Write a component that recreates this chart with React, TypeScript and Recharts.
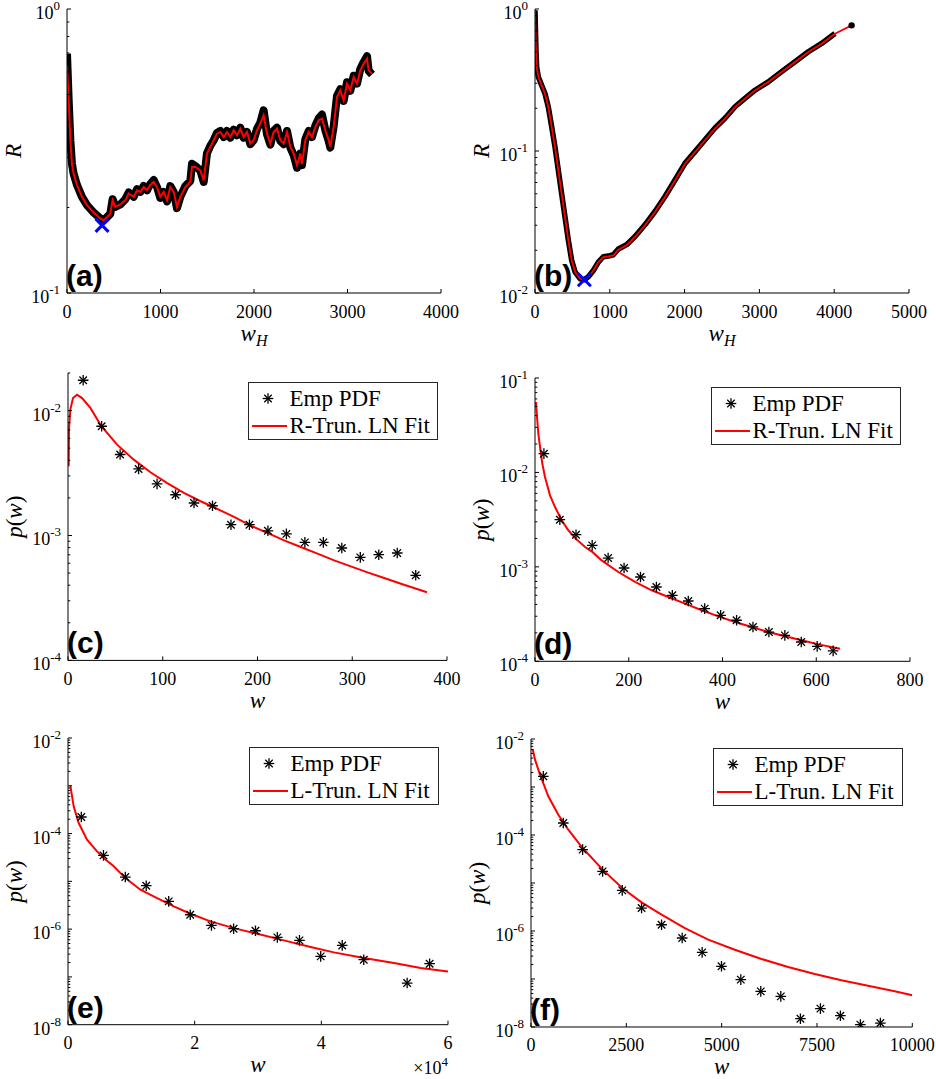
import React from 'react';
import { ComposedChart, Line, Scatter, XAxis, YAxis, Legend } from 'recharts';

const SERIF = '"Liberation Serif", "Times New Roman", Times, serif';
const SANS = '"Liberation Sans", Arial, Helvetica, sans-serif';

// ---------- Panel (a) ----------
const wA = [0, 18, 36, 53, 71, 107, 160, 214, 285, 357,
  392, 428, 463, 488, 517, 570, 624, 660, 713, 749,
  784, 820, 856, 891, 927, 963, 998, 1034, 1070, 1105,
  1141, 1176, 1212, 1266, 1319, 1337, 1373, 1426, 1462, 1497,
  1533, 1569, 1604, 1640, 1676, 1711, 1747, 1783, 1818, 1854,
  1889, 1925, 1961, 1996, 2032, 2068, 2103, 2139, 2175, 2210,
  2246, 2282, 2317, 2353, 2389, 2424, 2460, 2496, 2513, 2549,
  2585, 2620, 2656, 2692, 2727, 2763, 2799, 2816, 2852, 2888,
  2923, 2959, 2995, 3030, 3066, 3102, 3137, 3173, 3209, 3226,
  3262];
const rFitA = [0.633, 0.477, 0.345, 0.285, 0.263, 0.240, 0.218, 0.204, 0.192, 0.183,
  0.180, 0.185, 0.190, 0.212, 0.201, 0.205, 0.212, 0.224, 0.218, 0.230,
  0.227, 0.236, 0.230, 0.240, 0.246, 0.236, 0.218, 0.227, 0.212, 0.236,
  0.227, 0.201, 0.218, 0.236, 0.246, 0.278, 0.278, 0.270, 0.249, 0.310,
  0.327, 0.345, 0.364, 0.369, 0.354, 0.369, 0.354, 0.374, 0.359, 0.379,
  0.354, 0.369, 0.336, 0.345, 0.374, 0.395, 0.422, 0.364, 0.336, 0.369,
  0.379, 0.345, 0.336, 0.369, 0.327, 0.310, 0.282, 0.310, 0.285, 0.345,
  0.369, 0.354, 0.384, 0.406, 0.411, 0.374, 0.345, 0.327, 0.384, 0.490,
  0.517, 0.477, 0.546, 0.517, 0.576, 0.546, 0.608, 0.642, 0.668, 0.608,
  0.592];
const rEmpA = [0.696, 0.477, 0.345, 0.285, 0.263, 0.240, 0.218, 0.204, 0.192, 0.183,
  0.180, 0.185, 0.190, 0.214, 0.201, 0.205, 0.214, 0.226, 0.218, 0.232,
  0.227, 0.238, 0.230, 0.242, 0.250, 0.236, 0.216, 0.227, 0.210, 0.238,
  0.227, 0.199, 0.218, 0.238, 0.248, 0.285, 0.280, 0.270, 0.246, 0.310,
  0.330, 0.345, 0.366, 0.372, 0.354, 0.372, 0.352, 0.376, 0.359, 0.382,
  0.352, 0.369, 0.334, 0.345, 0.378, 0.398, 0.440, 0.362, 0.333, 0.372,
  0.382, 0.343, 0.334, 0.372, 0.325, 0.306, 0.276, 0.310, 0.282, 0.348,
  0.372, 0.354, 0.388, 0.412, 0.425, 0.374, 0.343, 0.325, 0.386, 0.495,
  0.522, 0.475, 0.552, 0.515, 0.582, 0.546, 0.615, 0.650, 0.682, 0.606,
  0.588];
const minA = { w: 375, v: 0.173 };

// ---------- Panel (b) ----------
const wB = [0, 13, 22, 45, 89, 134, 178, 223, 267, 312, 356, 401, 446, 490, 535, 602, 660, 713, 780, 847, 913, 980, 1047, 1114, 1225, 1337, 1470, 1604, 1738, 1872, 2005, 2139, 2273, 2406, 2540, 2674, 2807, 2941, 3119, 3297, 3476, 3654, 3832, 4010, 4233];
const rFitB = [0.979, 0.512, 0.391, 0.332, 0.290, 0.253, 0.204, 0.148, 0.107, 0.0731, 0.0501, 0.0343, 0.0235, 0.0170, 0.0141, 0.0126, 0.0124, 0.0130, 0.0144, 0.0165, 0.0179, 0.0181, 0.0184, 0.0202, 0.0217, 0.0248, 0.0300, 0.0372, 0.0474, 0.0621, 0.0814, 0.0984, 0.119, 0.144, 0.169, 0.204, 0.234, 0.267, 0.306, 0.360, 0.424, 0.498, 0.570, 0.670, 0.767];
const wEmpB = wB.slice(0, 44);
const rEmpB = [0.979, 0.512, 0.391, 0.332, 0.290, 0.253, 0.204, 0.148, 0.107, 0.0731, 0.0501, 0.0343, 0.0235, 0.0170, 0.0141, 0.0126, 0.0124, 0.0130, 0.0144, 0.0165, 0.0180, 0.0182, 0.0186, 0.0204, 0.0219, 0.0250, 0.0302, 0.0375, 0.0478, 0.0625, 0.0818, 0.0990, 0.120, 0.145, 0.170, 0.205, 0.235, 0.268, 0.307, 0.362, 0.425, 0.500, 0.572, 0.672];
const endB = { w: 4233, v: 0.767 };
const minB = { w: 660, v: 0.0124 };

// ---------- Panel (c) ----------
const wEmpC = [16, 35.5, 55, 74.5, 94, 113.5, 133, 152.5, 172, 191.5, 211, 230.5, 250, 269.5, 289, 308.5, 328, 347.5, 367];
const pEmpC = [0.0175, 0.00749, 0.00445, 0.00341, 0.00259, 0.00212, 0.00182, 0.00173, 0.00122, 0.00122, 0.00109, 0.00103, 0.000881, 0.000881, 0.000794, 0.000668, 0.000702, 0.000724, 0.000480];
const wFitC = [0.7, 1.06, 2.47, 5.29, 9.52, 14.8, 23.6, 35.2, 51.8, 69.4, 87.0, 104.7, 122.3, 139.9, 153.3, 175.2, 192.8, 210.4, 228.0, 245.6, 263.3, 280.9, 298.5, 316.1, 333.7, 351.4, 378.9];
const pFitC = [0.00358, 0.00705, 0.0102, 0.0126, 0.0134, 0.0126, 0.0105, 0.00749, 0.00534, 0.00405, 0.00321, 0.00263, 0.00219, 0.00188, 0.00169, 0.00141, 0.00120, 0.00105, 0.000915, 0.000809, 0.000715, 0.000632, 0.000566, 0.000507, 0.000457, 0.000411, 0.000351];

// ---------- Panel (d) ----------
const wEmpD = [19, 53, 87.5, 122, 156, 190, 225, 259, 293, 327, 362, 396, 430, 465, 499, 533, 568, 602, 636];
const pEmpD = [0.0158, 0.00316, 0.00219, 0.00169, 0.00124, 0.000973, 0.000781, 0.000612, 0.000500, 0.000435, 0.000361, 0.000307, 0.000272, 0.000231, 0.000204, 0.000188, 0.000160, 0.000144, 0.000129];
const wFitD = [2.1, 4.3, 7.1, 10.7, 15.6, 21.3, 32.0, 42.7, 56.9, 71.1, 86.8, 106.7, 122.3, 142.2, 177.8, 213.4, 248.9, 284.5, 320.1, 355.6, 391.2, 426.7, 462.3, 497.9, 533.4, 569.0, 604.6, 650.8];
const pFitD = [0.0557, 0.0387, 0.0257, 0.0186, 0.0124, 0.00895, 0.00572, 0.00430, 0.00311, 0.00244, 0.00199, 0.00162, 0.00144, 0.00117, 0.000882, 0.000692, 0.000565, 0.000480, 0.000408, 0.000347, 0.000299, 0.000261, 0.000231, 0.000204, 0.000184, 0.000167, 0.000151, 0.000136];

// ---------- Panel (e) ----------
const wEmpE = [2100, 5600, 9050, 12350, 15900, 19300, 22650, 26150, 29600, 33050, 36550, 39900, 43300, 46700, 53550, 57100];
const pEmpE = [2.22e-4, 3.50e-5, 1.23e-5, 8.10e-6, 3.81e-6, 2.00e-6, 1.20e-6, 1.02e-6, 9.25e-7, 6.71e-7, 5.81e-7, 2.69e-7, 4.56e-7, 2.29e-7, 7.43e-8, 1.89e-7];
const wFitE = [369, 896, 1686, 3003, 4583, 5637, 7217, 9061, 11432, 14066, 16700, 19334, 22494, 26182, 29870, 34084, 38298, 41986, 46727, 51468, 55683, 60000];
const pFitE = [1.005e-3, 3.71e-4, 1.66e-4, 7.44e-5, 4.24e-5, 3.08e-5, 2.06e-5, 1.17e-5, 6.68e-6, 4.47e-6, 2.99e-6, 2.10e-6, 1.45e-6, 1.05e-6, 8.01e-7, 5.81e-7, 4.21e-7, 3.26e-7, 2.48e-7, 1.95e-7, 1.53e-7, 1.30e-7];

// ---------- Panel (f) ----------
const wEmpF = [323, 847, 1354, 1878, 2393, 2900, 3424, 3965, 4489, 4996, 5502, 6026, 6551, 7066, 7590, 8114, 8638, 9162];
const pEmpF = [1.67e-3, 1.78e-4, 4.95e-5, 1.75e-5, 7.03e-6, 3.01e-6, 1.35e-6, 7.15e-7, 3.59e-7, 1.84e-7, 9.69e-8, 5.53e-8, 4.35e-8, 1.49e-8, 2.41e-8, 1.72e-8, 1.12e-8, 1.21e-8];
const wFitF = [44, 105, 236, 454, 716, 978, 1354, 1878, 2393, 2900, 3424, 4035, 4647, 5345, 6044, 6743, 7441, 8140, 8839, 9538, 10000];
const pFitF = [6.19e-3, 3.71e-3, 1.81e-3, 6.39e-4, 2.65e-4, 1.29e-4, 5.36e-5, 1.90e-5, 7.87e-6, 3.96e-6, 2.19e-6, 1.15e-6, 6.59e-7, 4.08e-7, 2.61e-7, 1.78e-7, 1.27e-7, 9.38e-8, 7.26e-8, 5.53e-8, 4.57e-8];

// ---------- Axis ticks / labels ----------
const xTicksA = [0, 1000, 2000, 3000, 4000];
const xTicksB = [0, 1000, 2000, 3000, 4000, 5000];
const xTicksC = [0, 100, 200, 300, 400];
const xTicksD = [0, 200, 400, 600, 800];
const xTicksE = [0, 20000, 40000, 60000];
const xLabelsE = ['0', '2', '4', '6'];
const xTicksF = [0, 2500, 5000, 7500, 10000];
const yExpA = [-1, 0];
const yExpB = [-2, -1, 0];
const yExpC = [-4, -3, -2];
const yExpD = [-4, -3, -2, -1];
const yExpEF = [-8, -6, -4, -2];
const legendC = ['Emp PDF', 'R-Trun. LN Fit'];
const legendE = ['Emp PDF', 'L-Trun. LN Fit'];

const zip = (ws: number[], vs: number[]) => ws.map((w, i) => ({ w, v: vs[i] }));

const PADL = 70, PADT = 16, PADR = 32, PADB = 70;
const MAJ = 4, MIN = 2.3;

const serifStyle = (size: number, italic = false): React.CSSProperties => ({
  fontFamily: SERIF, fontSize: size, fontStyle: italic ? 'italic' : 'normal',
});

function logTicks(dom: number[]) {
  const out: number[] = [];
  const k0 = Math.floor(Math.log10(dom[0]) + 1e-9);
  const k1 = Math.ceil(Math.log10(dom[1]) - 1e-9);
  for (let k = k0; k <= k1; k++) {
    for (let m = 1; m <= 9; m++) {
      const v = m * Math.pow(10, k);
      if (v >= dom[0] * (1 - 1e-9) && v <= dom[1] * (1 + 1e-9)) out.push(v);
    }
  }
  return out;
}
function decomp(v: number) {
  const e = Math.floor(Math.log10(v) + 1e-9);
  const m = Math.round(v / Math.pow(10, e));
  return { e, m };
}

function YTickL(props: any) {
  const { x, y, payload, labeled } = props;
  const { e, m } = decomp(payload.value);
  const dec = m === 1;
  const show = dec && labeled.includes(e);
  return (
    <g>
      <line x1={x} y1={y} x2={x + (dec ? MAJ : MIN)} y2={y} stroke="#000" strokeWidth={1} />
      {show && (
        <text x={x - 7} y={y + 10} textAnchor="end" style={serifStyle(18)} fill="#000">
          <tspan>10</tspan>
          <tspan dy={-9} style={serifStyle(13)}>{String(e)}</tspan>
        </text>
      )}
    </g>
  );
}
function YTickR(props: any) {
  const { x, y, payload } = props;
  const { m } = decomp(payload.value);
  const dec = m === 1;
  return <line x1={x} y1={y} x2={x - (dec ? MAJ : MIN)} y2={y} stroke="#000" strokeWidth={1} />;
}
function XTickB(props: any) {
  const { x, y, payload, ticks, labels } = props;
  const idx = ticks.indexOf(payload.value);
  const txt = labels ? labels[idx] : String(payload.value);
  return (
    <g>
      <line x1={x} y1={y} x2={x} y2={y - MAJ} stroke="#000" strokeWidth={1} />
      <text x={x} y={y + 24.5} textAnchor="middle" style={serifStyle(18)} fill="#000">{txt}</text>
    </g>
  );
}
function XTickT(props: any) {
  const { x, y } = props;
  return <line x1={x} y1={y} x2={x} y2={y + MAJ} stroke="#000" strokeWidth={1} />;
}

function XLab(props: any) {
  const { viewBox, kind, tag, exp } = props;
  if (!viewBox) return null;
  const { x, y, width } = viewBox;
  return (
    <g>
      <text x={x + width / 2} y={y + 47.5} textAnchor="middle" style={serifStyle(23, true)} fill="#000">
        {kind === 'wH' ? (
          <>
            <tspan>w</tspan>
            <tspan style={serifStyle(16, true)} dy={5}>H</tspan>
          </>
        ) : (
          'w'
        )}
      </text>
      <text x={x - 1} y={y - 7} style={{ fontFamily: SANS, fontWeight: 'bold', fontSize: 30 }} fill="#000">{tag}</text>
      {exp && (
        <text x={x + width} y={y + 49.5} textAnchor="end" style={serifStyle(18)} fill="#000">
          <tspan>×10</tspan>
          <tspan dy={-8} style={serifStyle(13)}>4</tspan>
        </text>
      )}
    </g>
  );
}
function YLab(props: any) {
  const { viewBox, kind } = props;
  if (!viewBox) return null;
  const { x, y, width, height } = viewBox;
  const cx = x + width - 46;
  const cy = y + height / 2;
  return (
    <text transform={`rotate(-90 ${cx} ${cy})`} x={cx} y={cy} textAnchor="middle" style={serifStyle(23)} fill="#000">
      {kind === 'R' ? (
        <tspan style={serifStyle(23, true)}>R</tspan>
      ) : (
        <>
          <tspan style={serifStyle(23, true)}>p</tspan>
          <tspan>(</tspan>
          <tspan style={serifStyle(23, true)}>w</tspan>
          <tspan>)</tspan>
        </>
      )}
    </text>
  );
}

function AstMark(props: any) {
  const { cx, cy } = props;
  if (cx == null || cy == null) return null;
  const r = 5.3;
  const d = r * 0.7071;
  return (
    <g stroke="#000" strokeWidth={1.3}>
      <line x1={cx - r} y1={cy} x2={cx + r} y2={cy} />
      <line x1={cx} y1={cy - r} x2={cx} y2={cy + r} />
      <line x1={cx - d} y1={cy - d} x2={cx + d} y2={cy + d} />
      <line x1={cx - d} y1={cy + d} x2={cx + d} y2={cy - d} />
    </g>
  );
}
function XMark(props: any) {
  const { cx, cy } = props;
  if (cx == null || cy == null) return null;
  const r = 6.5;
  return (
    <g stroke="#0000ff" strokeWidth={3}>
      <line x1={cx - r} y1={cy - r} x2={cx + r} y2={cy + r} />
      <line x1={cx - r} y1={cy + r} x2={cx + r} y2={cy - r} />
    </g>
  );
}
function DotMark(props: any) {
  const { cx, cy } = props;
  if (cx == null || cy == null) return null;
  return <circle cx={cx} cy={cy} r={3.2} fill="#000" />;
}

function LegendBox({ names }: { names: string[] }) {
  return (
    <svg width={190} height={58} style={{ display: 'block', overflow: 'visible' }}>
      <rect x={0.5} y={0.5} width={189} height={57} fill="#fff" stroke="#262626" strokeWidth={1} />
      <AstMark cx={20} cy={16.5} />
      <text x={41.5} y={24} style={serifStyle(23)} fill="#000">{names[0]}</text>
      <line x1={4} x2={39} y1={44} y2={44} stroke="#ff0000" strokeWidth={2} />
      <text x={41.5} y={51.3} style={serifStyle(23)} fill="#000">{names[1]}</text>
    </svg>
  );
}

type PanelProps = {
  L: number; T: number; R: number; B: number;
  xDom: number[]; xTicks: number[]; xLabels?: string[];
  yDom: number[]; yExp: number[];
  xKind: 'wH' | 'w'; yKind: 'R' | 'pw'; tag: string; exp?: boolean;
  legend?: string[];
  children: React.ReactNode;
};

function Panel(p: PanelProps) {
  const W = p.R - p.L + PADL + PADR;
  const H = p.B - p.T + PADT + PADB;
  const yTicks = logTicks(p.yDom);
  return (
    <div style={{ position: 'absolute', left: p.L - PADL, top: p.T - PADT }}>
      <ComposedChart width={W} height={H} margin={{ top: PADT, right: PADR, bottom: 0, left: 0 }}>
        <XAxis
          xAxisId="b" type="number" dataKey="w" domain={p.xDom} ticks={p.xTicks} interval={0}
          allowDataOverflow tickSize={0} tickMargin={0} tickLine={false} height={PADB}
          axisLine={{ stroke: '#000', strokeWidth: 1 }}
          tick={<XTickB ticks={p.xTicks} labels={p.xLabels} />}
          label={<XLab kind={p.xKind} tag={p.tag} exp={p.exp} />}
        />
        <XAxis
          xAxisId="t" orientation="top" type="number" dataKey="w" domain={p.xDom} ticks={p.xTicks} interval={0}
          allowDataOverflow tickSize={0} tickMargin={0} tickLine={false} height={0}
          axisLine={{ stroke: '#000', strokeWidth: 1 }} tick={<XTickT />}
        />
        <YAxis
          yAxisId="l" type="number" scale="log" dataKey="v" domain={p.yDom} ticks={yTicks} interval={0}
          allowDataOverflow tickSize={0} tickMargin={0} tickLine={false} width={PADL}
          axisLine={{ stroke: '#000', strokeWidth: 1 }}
          tick={<YTickL labeled={p.yExp} />}
          label={<YLab kind={p.yKind} />}
        />
        <YAxis
          yAxisId="r" orientation="right" type="number" scale="log" dataKey="v" domain={p.yDom} ticks={yTicks} interval={0}
          allowDataOverflow tickSize={0} tickMargin={0} tickLine={false} width={0}
          axisLine={{ stroke: '#000', strokeWidth: 1 }} tick={<YTickR />}
        />
        {p.children}
        {p.legend && (
          <Legend
            layout="vertical" align="center" verticalAlign="middle"
            wrapperStyle={{ left: PADL + (p.R - p.L) - 9 - 190, top: PADT + 9, width: 190, height: 58 }}
            content={() => <LegendBox names={p.legend as string[]} />}
          />
        )}
      </ComposedChart>
    </div>
  );
}

const ax = { xAxisId: 'b', yAxisId: 'l' } as const;

function fitLine(data: any[], name: string) {
  return (
    <Line {...ax} key={name} name={name} data={data} dataKey="v" type="linear" stroke="#ff0000" strokeWidth={2}
      dot={false} activeDot={false} isAnimationActive={false} legendType="line" />
  );
}
function empStars(data: any[], name: string) {
  return (
    <Scatter {...ax} key={name} name={name} data={data} dataKey="v" shape={(s: any) => <AstMark cx={s.cx} cy={s.cy} />}
      isAnimationActive={false} legendType="star" />
  );
}

export default function App() {
  return (
    <div style={{ position: 'absolute', left: 0, top: 0, width: 936, height: 1079, overflow: 'hidden', background: '#fff' }}>
      <style>{'.recharts-surface{overflow:visible}'}</style>
      <Panel L={66.7} T={8.7} R={440.7} B={292.7} xDom={[0, 4000]} xTicks={xTicksA} yDom={[0.1, 1]} yExp={yExpA} xKind="wH" yKind="R" tag="(a)">
        <Line {...ax} name="empA" data={zip(wA, rEmpA)} dataKey="v" stroke="#000" strokeWidth={8} strokeLinejoin="round" dot={false} activeDot={false} isAnimationActive={false} />
        <Line {...ax} name="fitA" data={zip(wA, rFitA)} dataKey="v" stroke="#ff0000" strokeWidth={2} dot={false} activeDot={false} isAnimationActive={false} />
        <Scatter {...ax} name="minA" data={[minA]} dataKey="v" shape={(s: any) => <XMark cx={s.cx} cy={s.cy} />} isAnimationActive={false} />
      </Panel>
      <Panel L={534.7} T={8.7} R={908.7} B={292.7} xDom={[0, 5000]} xTicks={xTicksB} yDom={[0.01, 1]} yExp={yExpB} xKind="wH" yKind="R" tag="(b)">
        <Line {...ax} name="empB" data={zip(wEmpB, rEmpB)} dataKey="v" stroke="#000" strokeWidth={5.5} strokeLinejoin="round" dot={false} activeDot={false} isAnimationActive={false} />
        <Scatter {...ax} name="endB" data={[endB]} dataKey="v" shape={(s: any) => <DotMark cx={s.cx} cy={s.cy} />} isAnimationActive={false} />
        <Line {...ax} name="fitB" data={zip(wB, rFitB)} dataKey="v" stroke="#ff0000" strokeWidth={1.8} dot={false} activeDot={false} isAnimationActive={false} />
        <Scatter {...ax} name="minB" data={[minB]} dataKey="v" shape={(s: any) => <XMark cx={s.cx} cy={s.cy} />} isAnimationActive={false} />
      </Panel>
      <Panel L={67.7} T={373.3} R={446.7} B={660.7} xDom={[0, 400]} xTicks={xTicksC} yDom={[1e-4, 0.02]} yExp={yExpC} xKind="w" yKind="pw" tag="(c)" legend={legendC}>
        {empStars(zip(wEmpC, pEmpC), legendC[0])}
        {fitLine(zip(wFitC, pFitC), legendC[1])}
      </Panel>
      <Panel L={534.7} T={377.7} R={909.7} B={661} xDom={[0, 800]} xTicks={xTicksD} yDom={[1e-4, 0.1]} yExp={yExpD} xKind="w" yKind="pw" tag="(d)" legend={legendC}>
        {empStars(zip(wEmpD, pEmpD), legendC[0])}
        {fitLine(zip(wFitD, pFitD), legendC[1])}
      </Panel>
      <Panel L={67.5} T={738.3} R={447.5} B={1025} xDom={[0, 60000]} xTicks={xTicksE} xLabels={xLabelsE} yDom={[1e-8, 1e-2]} yExp={yExpEF} xKind="w" yKind="pw" tag="(e)" exp legend={legendE}>
        {empStars(zip(wEmpE, pEmpE), legendE[0])}
        {fitLine(zip(wFitE, pFitE), legendE[1])}
      </Panel>
      <Panel L={530.7} T={739.3} R={912} B={1027.3} xDom={[0, 10000]} xTicks={xTicksF} yDom={[1e-8, 1e-2]} yExp={yExpEF} xKind="w" yKind="pw" tag="(f)" legend={legendE}>
        {empStars(zip(wEmpF, pEmpF), legendE[0])}
        {fitLine(zip(wFitF, pFitF), legendE[1])}
      </Panel>
    </div>
  );
}
